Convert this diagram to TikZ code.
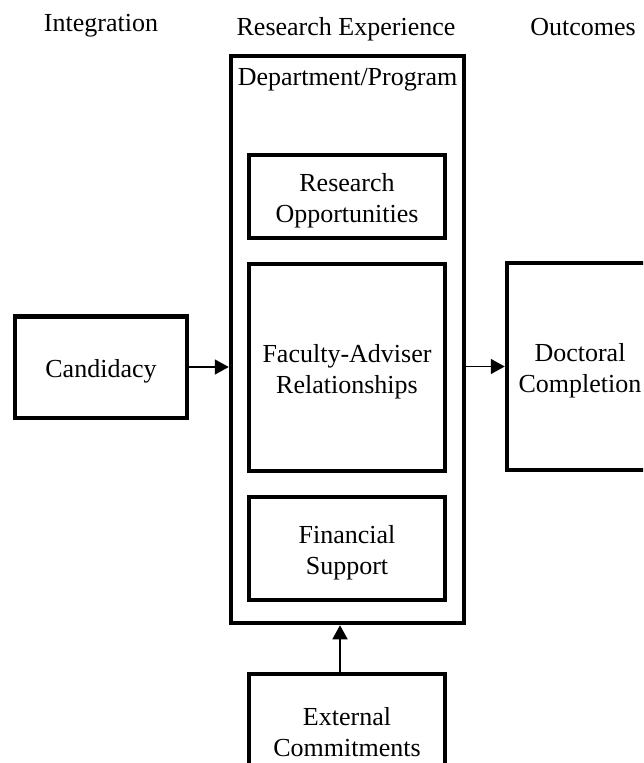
\documentclass[tikz,border=0pt]{standalone}
\usepackage{fontspec}
\setmainfont{Liberation Serif}
\usetikzlibrary{arrows.meta}
\newcommand{\bxst}{\rule{0pt}{26.5pt}}
\begin{document}
\begin{tikzpicture}[x=1pt,y=-1pt,
  box/.style={draw, line width=4.5pt, inner sep=0pt, align=center,
    font=\fontsize{26}{31}\selectfont},
  lbl/.style={inner sep=0pt, anchor=base, font=\fontsize{26}{31}\selectfont},
  arr/.style={line width=1.5pt, -{Triangle[length=14pt,width=15pt]}}]
\clip (0,0) rectangle (643,763);
\fill[white] (0,0) rectangle (643,763);
% titles
\node[lbl] (t1) at (101,31) {Integration};
\node[lbl] (t2) at (346,35) {Research Experience};
\node[lbl] (t3) at (583,35) {Outcomes};
% boxes
\node[box, minimum width=172pt, minimum height=101.5pt] (cand) at (101,367) {\bxst Candidacy};
\node[box, minimum width=233pt, minimum height=567pt] (outer) at (347.5,339.5) {};
\node[lbl] (dept) at (347.5,85) {Department/Program};
\node[box, minimum width=196pt, minimum height=83pt] (ro) at (347,196.5) {\bxst Research\\Opportunities};
\node[box, minimum width=196pt, minimum height=207pt] (fa) at (347,367.5) {\bxst Faculty-Adviser\\Relationships};
\node[box, minimum width=196pt, minimum height=103pt] (fs) at (347,548.5) {\bxst Financial\\Support};
\node[box, minimum width=146pt, minimum height=207pt] (dc) at (580,366.5) {\bxst Doctoral\\Completion};
\node[box, minimum width=196pt, minimum height=108pt] (ext) at (347,728) {\bxst External\\Commitments};
% connectors
\draw[arr] (cand.east) -- (cand.east -| outer.west);
\draw[arr] (outer.east |- dc.west) -- (dc.west);
\draw[arr] ([xshift=-7pt]ext.north) -- ([xshift=-7pt]ext.north |- outer.south);
\end{tikzpicture}
\end{document}
